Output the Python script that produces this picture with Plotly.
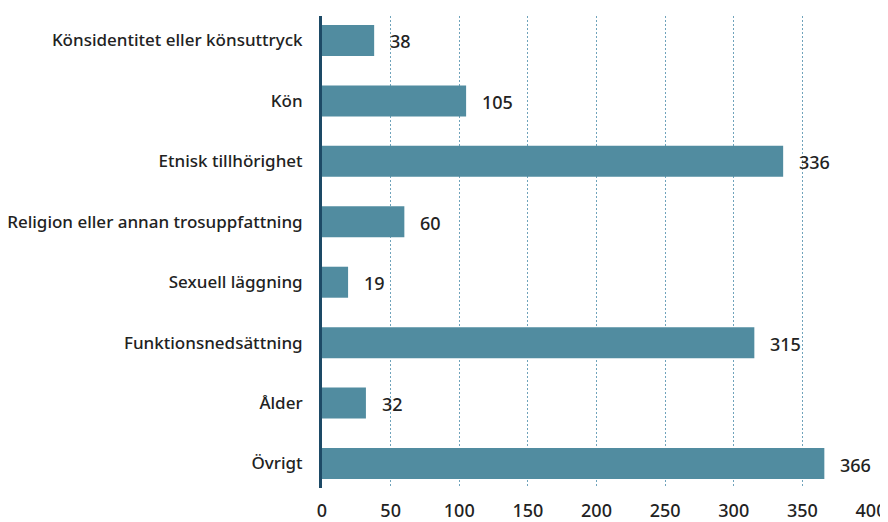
import plotly.graph_objects as go

categories = [
    "Könsidentitet eller könsuttryck",
    "Kön",
    "Etnisk tillhörighet",
    "Religion eller annan trosuppfattning",
    "Sexuell läggning",
    "Funktionsnedsättning",
    "Ålder",
    "Övrigt",
]
values = [38, 105, 336, 60, 19, 315, 32, 366]
tick_vals = [0, 50, 100, 150, 200, 250, 300, 350, 400]

fig = go.Figure()
fig.add_trace(go.Bar(
    x=values,
    y=categories,
    orientation="h",
    marker=dict(color="#518ca0", line=dict(width=0)),
    width=0.513,
    hoverinfo="x+y",
))

for c, v in zip(categories, values):
    fig.add_annotation(
        x=v, y=c, text=str(v), showarrow=False,
        xanchor="left", yanchor="middle", xshift=14, yshift=-1,
        font=dict(family="Noto Sans", size=18, color="#222222", weight=500),
    )

# page body has an 8px default margin, so the figure is shifted by 8px
fig.update_layout(
    width=880, height=514,
    margin=dict(l=314, r=17, t=8, b=34),
    paper_bgcolor="white", plot_bgcolor="white",
    showlegend=False,
    font=dict(family="Noto Sans", color="#222222"),
)
fig.update_xaxes(
    range=[0, 400], tickvals=tick_vals,
    showgrid=True, gridcolor="#6fa3bb", griddash="2px,2px", gridwidth=1,
    zeroline=False, showline=False, automargin=False,
    tickfont=dict(size=18, color="#222222", weight=500),
    ticks="outside", ticklen=6, tickcolor="rgba(0,0,0,0)",
)
fig.update_yaxes(
    categoryorder="array", categoryarray=categories,
    autorange=False, range=[7.405, -0.405],
    showgrid=False, zeroline=False, automargin=False,
    showline=True, linecolor="#1d4a66", linewidth=3,
    tickfont=dict(size=17, color="#222222", weight=500),
    ticks="outside", ticklen=13, tickcolor="rgba(0,0,0,0)",
)

fig.write_html("out.html")
